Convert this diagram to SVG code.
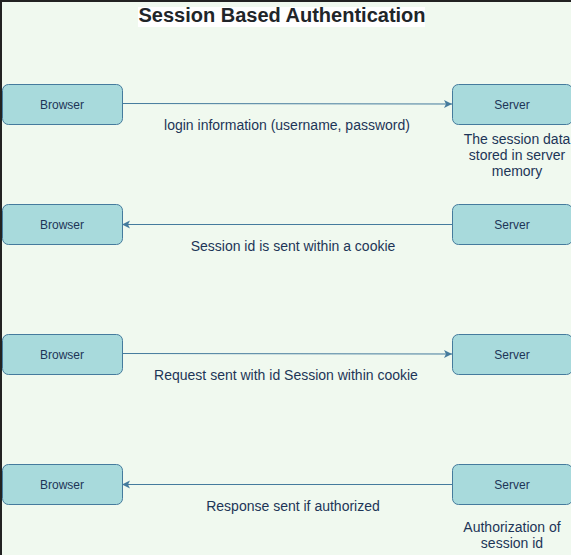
<svg xmlns="http://www.w3.org/2000/svg" width="571" height="555" viewBox="0 0 571 555">
<style>
.node rect{fill:#A8DADC;stroke:#457B9D;stroke-width:1}
.node text{font-family:"Liberation Sans",Arial,sans-serif;font-size:12px;fill:#1D3557;text-anchor:middle}
.lbl{font-family:"Liberation Sans",Arial,sans-serif;font-size:14px;fill:#1D3557;text-anchor:middle}
.edge{stroke:#457B9D;stroke-width:1;fill:none;marker-end:url(#ah)}
</style>
<defs>
<marker id="ah" markerWidth="10" markerHeight="10" refX="8" refY="5" orient="auto" markerUnits="userSpaceOnUse">
<path d="M0,1 L8,5 L0,9 L2,5 Z" fill="#457B9D"/>
</marker>
</defs>
<rect x="0" y="0" width="571" height="555" fill="#F0F9EF"/>
<path d="M1,555 V1 H571" fill="none" stroke="#222222" stroke-width="2"/>
<g id="title">
<rect x="138" y="7" width="287" height="20" fill="#ffffff"/>
<text x="282" y="22" font-family="Liberation Sans,Arial,sans-serif" font-size="20" font-weight="bold" fill="#212529" text-anchor="middle">Session Based Authentication</text>
</g>
<g id="connectors">
<path class="edge" d="M122,103.5 L452,104"/>
<path class="edge" d="M452,224.5 L122,224.5"/>
<path class="edge" d="M122,353.5 L452,354"/>
<path class="edge" d="M452,484.5 L122,484.5"/>
</g>
<g id="labels">
<text class="lbl" x="287" y="130">login information (username, password)</text>
<text class="lbl" x="293" y="251">Session id is sent within a cookie</text>
<text class="lbl" x="286" y="380">Request sent with id Session within cookie</text>
<text class="lbl" x="293" y="511">Response sent if authorized</text>
</g>
<g id="browser1" class="node"><rect x="2.5" y="84.5" width="120" height="40" rx="6"/><text x="62" y="108.5">Browser</text></g>
<g id="server1" class="node"><rect x="452.5" y="84.5" width="120" height="40" rx="6"/><text x="512" y="108.5">Server</text></g>
<g id="browser2" class="node"><rect x="2.5" y="204.5" width="120" height="40" rx="6"/><text x="62" y="228.5">Browser</text></g>
<g id="server2" class="node"><rect x="452.5" y="204.5" width="120" height="40" rx="6"/><text x="512" y="228.5">Server</text></g>
<g id="browser3" class="node"><rect x="2.5" y="334.5" width="120" height="40" rx="6"/><text x="62" y="358.5">Browser</text></g>
<g id="server3" class="node"><rect x="452.5" y="334.5" width="120" height="40" rx="6"/><text x="512" y="358.5">Server</text></g>
<g id="browser4" class="node"><rect x="2.5" y="464.5" width="120" height="40" rx="6"/><text x="62" y="488.5">Browser</text></g>
<g id="server4" class="node"><rect x="452.5" y="464.5" width="120" height="40" rx="6"/><text x="512" y="488.5">Server</text></g>
<g id="note1">
<text class="lbl" x="517" y="144">The session data</text>
<text class="lbl" x="517" y="160">stored in server</text>
<text class="lbl" x="517" y="176">memory</text>
</g>
<g id="note2">
<text class="lbl" x="512" y="532">Authorization of</text>
<text class="lbl" x="512" y="548">session id</text>
</g>
</svg>
